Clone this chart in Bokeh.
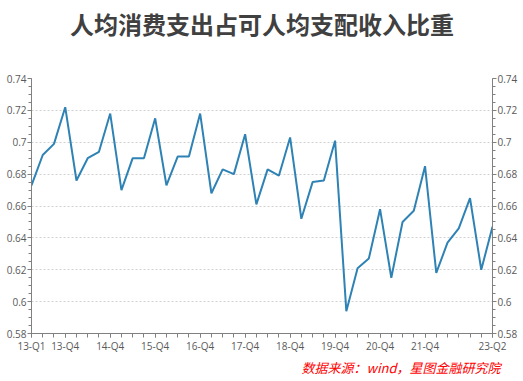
from bokeh.plotting import figure
from bokeh.models import (LinearAxis, FixedTicker, Range1d, Title, ColumnDataSource)
from bokeh.embed import file_html
from bokeh.resources import INLINE

# ---- data ----
quarters = []
for yr in range(13, 24):
    for q in range(1, 5):
        if yr == 23 and q > 2:
            break
        quarters.append(f"{yr}-Q{q}")

ratio = [0.673, 0.692, 0.699, 0.722, 0.676, 0.690, 0.694, 0.718, 0.670, 0.690,
         0.690, 0.715, 0.673, 0.691, 0.691, 0.718, 0.668, 0.683, 0.680, 0.705,
         0.661, 0.683, 0.679, 0.703, 0.652, 0.675, 0.676, 0.701, 0.594, 0.621,
         0.627, 0.658, 0.615, 0.650, 0.657, 0.685, 0.618, 0.637, 0.646, 0.665,
         0.620, 0.647]

x_label_quarters = ["13-Q1", "13-Q4", "14-Q4", "15-Q4", "16-Q4", "17-Q4",
                    "18-Q4", "19-Q4", "20-Q4", "21-Q4", "23-Q2"]
y_ticks = [0.58, 0.60, 0.62, 0.64, 0.66, 0.68, 0.70, 0.72, 0.74]
y_tick_labels = ["0.58", "0.6", "0.62", "0.64", "0.66", "0.68", "0.7", "0.72", "0.74"]

title_text = "人均消费支出占可人均支配收入比重"
source_text = "数据来源：wind，星图金融研究院"

# ---- build ----
idx = list(range(len(quarters)))
src = ColumnDataSource(dict(x=idx, y=ratio, q=quarters))

FW, FH = 461, 255
p = figure(frame_width=FW, frame_height=FH, output_backend="svg", toolbar_location=None,
           x_range=Range1d(0, len(quarters) - 1), y_range=Range1d(0.58, 0.74),
           min_border_left=31, min_border_right=0, min_border_top=0,
           min_border_bottom=45, background_fill_color="white",
           border_fill_color="white")
p.outline_line_color = None

p.line("x", "y", source=src, line_color="#2f82b4", line_width=2)

tick_font = "Open Sans"
tick_color = "#595959"
axis_color = "#808080"

# x axis
xt = [quarters.index(q) for q in x_label_quarters]
p.xaxis.ticker = FixedTicker(ticks=xt, minor_ticks=idx)
p.xaxis.major_label_overrides = {i: quarters[i] for i in xt}
p.xaxis.axis_line_color = axis_color
p.xaxis.major_tick_line_color = axis_color
p.xaxis.minor_tick_line_color = axis_color
p.xaxis.major_tick_in = 0
p.xaxis.major_tick_out = 4
p.xaxis.minor_tick_in = 0
p.xaxis.minor_tick_out = 4
p.xaxis.major_label_standoff = 1
p.xaxis.major_label_text_font = tick_font
p.xaxis.major_label_text_font_size = "10px"
p.xaxis.major_label_text_color = tick_color

minor_y = [round(0.58 + 0.005 * k, 3) for k in range(33)]

def style_y(ax):
    ax.ticker = FixedTicker(ticks=y_ticks, minor_ticks=minor_y)
    ax.major_label_overrides = {t: l for t, l in zip(y_ticks, y_tick_labels)}
    ax.axis_line_color = axis_color
    ax.major_tick_line_color = axis_color
    ax.minor_tick_line_color = axis_color
    ax.major_tick_in = 0
    ax.major_tick_out = 4
    ax.minor_tick_in = 0
    ax.minor_tick_out = 3
    ax.major_label_standoff = 1
    ax.major_label_text_font = tick_font
    ax.major_label_text_font_size = "10px"
    ax.major_label_text_color = tick_color

style_y(p.yaxis[0])
right_axis = LinearAxis()
style_y(right_axis)
p.add_layout(right_axis, "right")

p.xgrid.grid_line_color = None
p.ygrid.ticker = FixedTicker(ticks=y_ticks)
p.ygrid.grid_line_color = "#d0d0d0"
p.ygrid.grid_line_dash = "2 2"

# spacer between title and plot frame (added first -> nearest the frame)
spacer = Title(text=" ", text_font_size="1px", standoff=32)
p.add_layout(spacer, "above")

t = Title(text=title_text, align="center", text_font="Noto Sans CJK SC",
          text_font_size="24px", text_font_style="bold", text_color="#404040",
          standoff=6)
p.add_layout(t, "above")

s = Title(text=source_text, align="right", text_font="Noto Sans CJK SC",
          text_font_size="13px", text_font_style="italic", text_color="#ff0000",
          standoff=0, offset=-8)
p.add_layout(s, "below")

open("out.html", "w").write(file_html(p, INLINE))
